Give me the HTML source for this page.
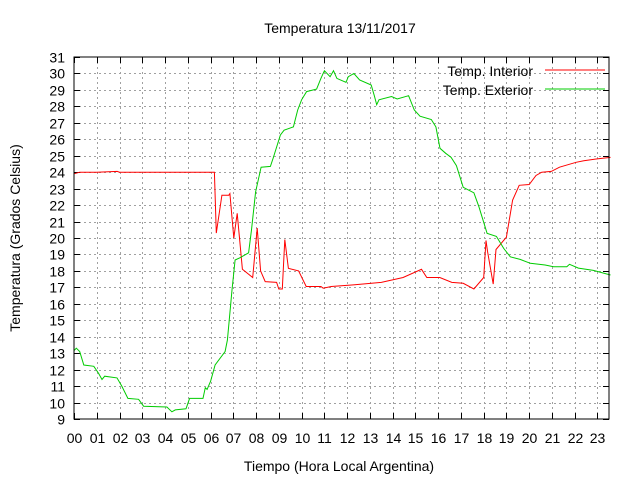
<!DOCTYPE html>
<html><head><meta charset="utf-8"><style>
html,body{margin:0;padding:0;background:#fff;}
svg{display:block;font-family:"Liberation Sans",sans-serif;}
</style></head><body>
<svg id="chart" width="640" height="480" xmlns="http://www.w3.org/2000/svg">
<rect width="640" height="480" fill="#fff"/>
<text x="340" y="33" text-anchor="middle" font-size="14">Temperatura 13/11/2017</text>
<text x="339" y="471" text-anchor="middle" font-size="14">Tiempo (Hora Local Argentina)</text>
<text x="20" y="238" text-anchor="middle" font-size="14" transform="rotate(-90 20 238)">Temperatura (Grados Celsius)</text>
<g id="grid"></g><g id="ticks"></g><g id="series"></g>
<rect x="74" y="57" width="535" height="362" fill="none" stroke="#000" stroke-width="1"/>
<g>
<text x="533" y="76" text-anchor="end" font-size="14">Temp. Interior</text>
<line x1="545" y1="70" x2="605" y2="70" stroke="#f00" stroke-width="1"/>
<text x="533" y="95" text-anchor="end" font-size="14">Temp. Exterior</text>
<line x1="545" y1="89" x2="605" y2="89" stroke="#0c0" stroke-width="1"/>
</g>
</svg>
<script>
const yTicks=[9,10,11,12,13,14,15,16,17,18,19,20,21,22,23,24,25,26,27,28,29,30,31];
const xTickLabels=["00","01","02","03","04","05","06","07","08","09","10","11","12","13","14","15","16","17","18","19","20","21","22","23"];
const interiorHours=[0,0.25,1.0,1.9,2.0,6.17,6.25,6.5,6.8,6.85,7.02,7.17,7.4,7.85,8.05,8.2,8.4,8.9,9.0,9.15,9.26,9.42,9.87,10.2,10.85,10.95,11.3,12.27,13.5,14.46,15.27,15.5,16.07,16.6,17.1,17.57,18.0,18.1,18.17,18.42,18.54,19.0,19.27,19.56,20.0,20.3,20.55,20.97,21.33,22.06,22.4,22.94,23.57];
const interiorTemps=[23.9,24.0,24.0,24.05,24.0,24.0,20.3,22.6,22.6,22.7,20.0,21.5,18.1,17.6,20.6,18.0,17.35,17.3,16.9,16.9,19.9,18.15,18.0,17.05,17.05,16.95,17.05,17.15,17.3,17.6,18.1,17.6,17.6,17.3,17.25,16.9,17.6,19.85,19.2,17.2,19.3,20.05,22.3,23.2,23.25,23.8,24.0,24.05,24.3,24.6,24.7,24.8,24.9];
const exteriorHours=[0,0.1,0.25,0.43,0.87,1.08,1.23,1.35,1.89,2.1,2.37,2.84,3.06,4.08,4.3,4.45,4.92,5.08,5.67,5.77,5.85,6.0,6.2,6.64,6.74,6.94,7.08,7.3,7.67,7.8,7.98,8.22,8.63,8.76,9.07,9.23,9.64,9.83,10.0,10.22,10.66,10.85,11.0,11.25,11.4,11.55,11.95,12.05,12.3,12.55,13.06,13.2,13.3,13.4,13.95,14.2,14.7,14.95,15.2,15.7,15.9,16.08,16.33,16.57,16.8,17.1,17.57,17.79,18.15,18.56,18.88,19.17,19.6,20.05,20.7,21.07,21.65,21.77,22.16,22.82,23.57];
const exteriorTemps=[13.15,13.3,13.1,12.28,12.2,11.77,11.4,11.6,11.5,11.0,10.25,10.2,9.78,9.73,9.44,9.55,9.62,10.25,10.25,10.9,10.8,11.3,12.28,13.1,13.8,16.84,18.66,18.8,19.1,20.5,22.8,24.3,24.35,24.9,26.26,26.55,26.75,27.78,28.4,28.9,29.05,29.7,30.17,29.8,30.17,29.7,29.46,29.8,30.0,29.6,29.3,28.63,28.1,28.4,28.6,28.45,28.65,27.78,27.4,27.2,26.75,25.45,25.15,24.9,24.4,23.08,22.75,21.9,20.28,20.1,19.37,18.86,18.7,18.46,18.36,18.25,18.25,18.4,18.17,18.03,17.75];
const NS="http://www.w3.org/2000/svg";
const X0=74,X1=609,Y0=419,Y1=57,PXH=22.76;
function xs(h){return X0+h*PXH;}
function ys(t){return Y0-(t-9)*(Y0-Y1)/22;}
function mk(tag,attrs,parent){const e=document.createElementNS(NS,tag);for(const k in attrs)e.setAttribute(k,attrs[k]);parent.appendChild(e);return e;}
const grid=document.getElementById('grid'),ticks=document.getElementById('ticks'),series=document.getElementById('series');
yTicks.forEach(t=>{
  const y=Math.round(ys(t))+0.5;
  if(t>9&&t<31){const g=mk('line',{x1:X0,x2:X1,y1:y,y2:y,stroke:'#a0a0a0','stroke-dasharray':'2,3'},grid);
  
  }
  const a=mk('line',{x1:X0,x2:X0+6,y1:y,y2:y,stroke:'#000'},ticks);
  
  
  const b=mk('line',{x1:X1-6,x2:X1,y1:y,y2:y,stroke:'#000'},ticks);
  
  
  const tx=mk('text',{x:65,y:y+5,'text-anchor':'end','font-size':'14'},ticks);tx.textContent=t;
  
  
});
xTickLabels.forEach((lab,i)=>{
  const x=Math.round(xs(i))+0.5;
  if(i>0){const g=mk('line',{x1:x,x2:x,y1:Y1,y2:Y0,stroke:'#a0a0a0','stroke-dasharray':'2,3'},grid);
  
  }
  const a=mk('line',{x1:x,x2:x,y1:Y0-6,y2:Y0,stroke:'#000'},ticks);
  
  
  const b=mk('line',{x1:x,x2:x,y1:Y1,y2:Y1+6,stroke:'#000'},ticks);
  
  
  const tx=mk('text',{x:x,y:443,'text-anchor':'middle','font-size':'14'},ticks);tx.textContent=lab;
  
  
});
function pts(hs,ts){return hs.map((h,i)=>xs(h).toFixed(1)+','+ys(ts[i]).toFixed(1)).join(' ');}
const pi=mk('polyline',{points:pts(interiorHours,interiorTemps),fill:'none',stroke:'#f00','stroke-width':'1'},series);


const pe=mk('polyline',{points:pts(exteriorHours,exteriorTemps),fill:'none',stroke:'#0c0','stroke-width':'1'},series);


</script>
</body></html>
